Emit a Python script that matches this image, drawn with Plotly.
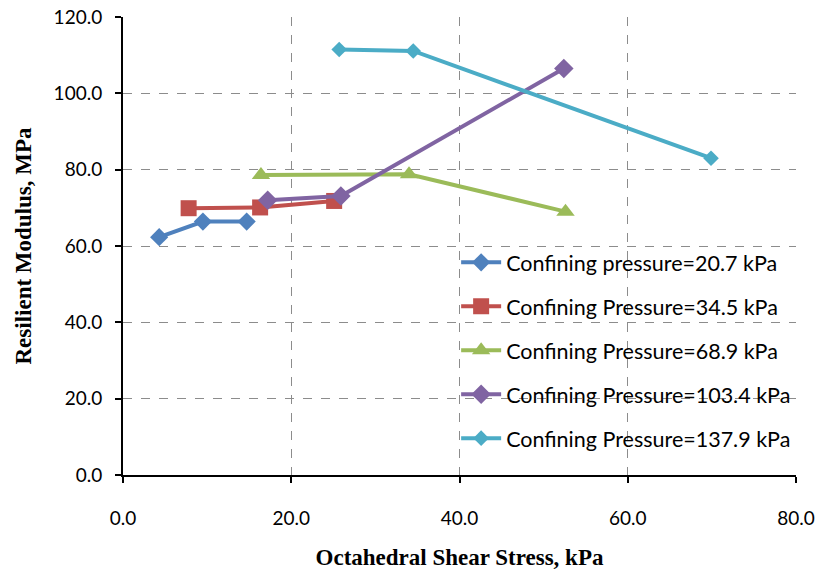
import plotly.graph_objects as go

# Octahedral shear stress (kPa) and resilient modulus (MPa) per confining pressure
series_names = [
    "Confining pressure=20.7 kPa",
    "Confining Pressure=34.5 kPa",
    "Confining Pressure=68.9 kPa",
    "Confining Pressure=103.4 kPa",
    "Confining Pressure=137.9 kPa",
]
stress_207 = [4.3, 9.5, 14.7]
modulus_207 = [62.3, 66.4, 66.4]
stress_345 = [7.8, 16.3, 25.1]
modulus_345 = [69.9, 70.1, 71.8]
stress_689 = [16.4, 34.0, 52.6]
modulus_689 = [78.6, 78.8, 69.0]
stress_1034 = [17.2, 25.9, 52.4]
modulus_1034 = [72.0, 73.1, 106.5]
stress_1379 = [25.7, 34.5, 69.9]
modulus_1379 = [111.5, 111.1, 83.0]

x_ticks = [0, 20, 40, 60, 80]
y_ticks = [0, 20, 40, 60, 80, 100, 120]

colors = ["#4F81BD", "#C0504D", "#9BBB59", "#8064A2", "#4BACC6"]
symbols = ["diamond", "square", "triangle-up", "diamond", "diamond"]
sizes = [14, 16, 16, 15, 12]

xs = [stress_207, stress_345, stress_689, stress_1034, stress_1379]
ys = [modulus_207, modulus_345, modulus_689, modulus_1034, modulus_1379]

fig = go.Figure()
for i, name in enumerate(series_names):
    fig.add_trace(go.Scatter(
        x=xs[i], y=ys[i], name=name, mode="lines+markers",
        legendgroup=str(i),
        line=dict(color=colors[i], width=4),
        marker=dict(symbol=symbols[i], size=sizes[i], color=colors[i]),
    ))

tick_font = dict(family="Lato, Open Sans, sans-serif", size=19, color="#000000")
legend_font = dict(family="Lato, Open Sans, sans-serif", size=21.5, color="#000000")
title_font = dict(family="Liberation Serif, Times New Roman, serif", size=23, color="#000000")

fig.update_layout(
    width=825, height=572,
    margin=dict(l=123, r=29, t=17, b=97),
    paper_bgcolor="white", plot_bgcolor="white",
    legend=dict(
        x=0.495, y=0.509, xanchor="left", yanchor="top",
        bgcolor="rgba(0,0,0,0)", font=legend_font,
        tracegroupgap=13, itemwidth=40,
    ),
    xaxis=dict(
        range=[0, 80], tickvals=x_ticks, tickformat=".1f",
        showline=True, linecolor="black", linewidth=2,
        ticks="outside", ticklen=6, tickwidth=2, tickcolor="black",
        showgrid=True, gridcolor="#8c8c8c", griddash="dash", gridwidth=1,
        zeroline=False, tickfont=tick_font, ticklabelstandoff=19,
        automargin=False,
        title=dict(text="<b>Octahedral Shear Stress, kPa</b>", font=title_font, standoff=21),
    ),
    yaxis=dict(
        range=[0, 120], tickvals=y_ticks, tickformat=".1f",
        showline=True, linecolor="black", linewidth=2,
        ticks="outside", ticklen=6, tickwidth=2, tickcolor="black",
        showgrid=True, gridcolor="#8c8c8c", griddash="dash", gridwidth=1,
        zeroline=False, tickfont=tick_font, ticklabelstandoff=9,
        automargin=False,
        title=dict(text="<b>Resilient Modulus, MPa</b>", font=title_font, standoff=16),
    ),
)

fig.write_html("out.html")
